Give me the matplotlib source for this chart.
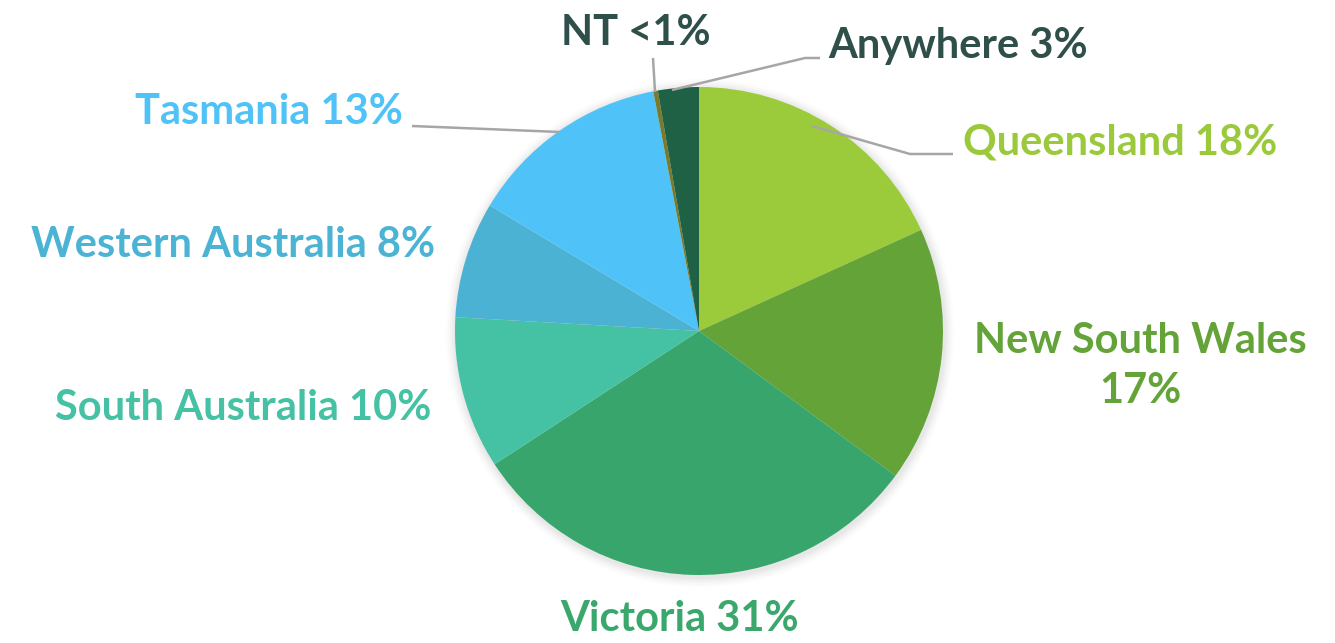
import matplotlib
matplotlib.use("Agg")
import matplotlib.pyplot as plt
from matplotlib.patches import Circle

labels = ["Queensland", "New South Wales", "Victoria", "South Australia",
          "Western Australia", "Tasmania", "NT", "Anywhere"]
values = [18.2, 16.9, 30.7, 10.1, 7.7, 13.4, 0.3, 2.7]
label_texts = ["Queensland 18%", "New South Wales\n17%", "Victoria 31%",
               "South Australia 10%", "Western Australia 8%", "Tasmania 13%",
               "NT <1%", "Anywhere 3%"]
colors = ["#9BCB3B", "#64A338", "#38A66C", "#45C1A3", "#4BB2D3", "#4FC3F7",
          "#7A7A2C", "#1F6144"]
text_colors = ["#9ACA3C", "#64A338", "#3AA76D", "#45C1A3", "#4BB3D3", "#4FC3F7",
               "#2F4F4A", "#2F4F4A"]

W, H = 1335, 643
fig = plt.figure(figsize=(W / 100, H / 100), dpi=100)
ax = fig.add_axes([0, 0, 1, 1])
ax.set_xlim(0, W)
ax.set_ylim(0, H)
ax.set_aspect("equal")
ax.axis("off")

cx, cy, r = 699, H - 331, 244

# soft shadow
for i, a in enumerate([0.025, 0.025, 0.02, 0.015, 0.01]):
    ax.add_patch(Circle((cx + 1, cy - 2), r + 2 + i * 2, color="black", alpha=a, lw=0, zorder=0))

ax.pie(values, colors=colors, startangle=90, counterclock=False,
       center=(cx, cy), radius=r, wedgeprops=dict(linewidth=0), frame=False)
ax.set_xlim(0, W)
ax.set_ylim(0, H)

pos = {
    0: (1120, 143, "center"),
    1: (1140, 366, "center"),
    2: (680, 619, "center"),
    3: (243, 408, "center"),
    4: (233, 245, "center"),
    5: (269, 112, "center"),
    6: (636, 33, "center"),
    7: (958, 46, "center"),
}
for i, (x, y, ha) in pos.items():
    ax.text(x, H - y, label_texts[i], ha=ha, va="center", color=text_colors[i],
            fontsize=30, fontweight="bold", family="Lato", linespacing=1.4, zorder=5)

# leader lines
lines = [
    [(412, 126), (560, 132)],
    [(653, 58), (655, 92)],
    [(672, 90), (805, 58), (820, 58)],
    [(812, 126), (910, 154), (953, 154)],
]
for pts in lines:
    xs = [p[0] for p in pts]
    ys = [H - p[1] for p in pts]
    ax.plot(xs, ys, color="#A6A6A6", lw=1.8, zorder=4, solid_capstyle="butt")

fig.savefig("out.png", dpi=100, facecolor="white")
